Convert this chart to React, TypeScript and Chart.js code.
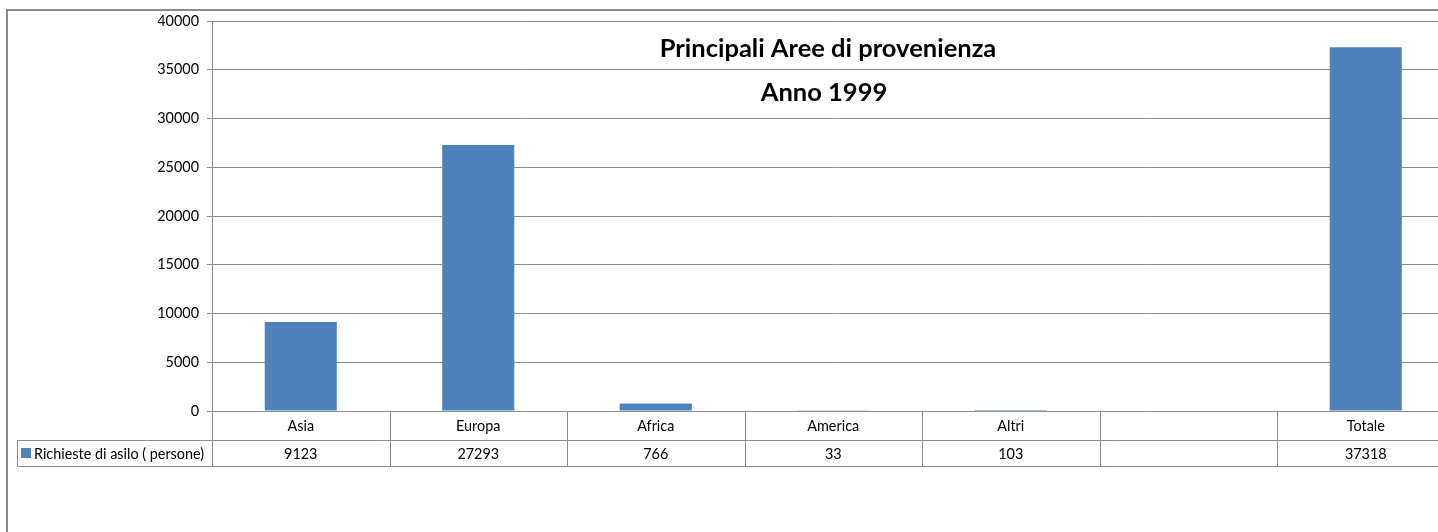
import React, { useEffect, useRef } from "react";
import { Chart, registerables } from "chart.js";

Chart.register(...registerables);

const categories = ["Asia", "Europa", "Africa", "America", "Altri", "", "Totale"];
const seriesLabel = "Richieste di asilo ( persone)";
const seriesValues: (number | null)[] = [9123, 27293, 766, 33, 103, null, 37318];
const tableValues = ["9123", "27293", "766", "33", "103", "", "37318"];
const titleLines = ["Principali Aree di provenienza", "Anno 1999"];

const BAR_COLOR = "#4F81BD";
const LINE_COLOR = "#8C8C8C";
const FONT = "Lato, 'Open Sans', sans-serif";

const extrasPlugin = {
  id: "extras",
  beforeDraw(chart: any) {
    const ctx = chart.ctx;
    ctx.save();
    ctx.fillStyle = "#ffffff";
    ctx.fillRect(0, 0, chart.width, chart.height);
    ctx.strokeStyle = "#8A8A8A";
    ctx.lineWidth = 2;
    ctx.strokeRect(7, 10, chart.width + 20, chart.height + 20);
    ctx.restore();
  },
  afterDraw(chart: any) {
    const ctx = chart.ctx;
    const area = chart.chartArea;
    const n = categories.length;
    const cw = (area.right - area.left) / n;
    const row1Top = area.bottom;
    const row1Bottom = area.bottom + 29;
    const row2Bottom = row1Bottom + 26;
    const legendLeft = 17.5;
    ctx.save();
    ctx.strokeStyle = LINE_COLOR;
    ctx.lineWidth = 1;
    ctx.beginPath();
    ctx.moveTo(legendLeft, Math.round(row1Bottom) + 0.5);
    ctx.lineTo(chart.width, Math.round(row1Bottom) + 0.5);
    ctx.moveTo(legendLeft, Math.round(row2Bottom) + 0.5);
    ctx.lineTo(chart.width, Math.round(row2Bottom) + 0.5);
    for (let i = 0; i <= n; i++) {
      const x = Math.round(area.left + i * cw) + 0.5;
      ctx.moveTo(x, row1Top);
      ctx.lineTo(x, row2Bottom + 0.5);
    }
    ctx.moveTo(legendLeft, Math.round(row1Bottom) + 0.5);
    ctx.lineTo(legendLeft, Math.round(row2Bottom) + 0.5);
    ctx.stroke();

    ctx.fillStyle = "#000000";
    ctx.font = `14.4px ${FONT}`;
    ctx.textAlign = "center";
    ctx.textBaseline = "middle";
    const xs = chart.scales.x;
    for (let i = 0; i < n; i++) {
      const cx = xs.getPixelForValue(i);
      ctx.fillText(categories[i], cx, (row1Top + row1Bottom) / 2 + 1);
      ctx.fillText(tableValues[i], cx, (row1Bottom + row2Bottom) / 2 + 1);
    }
    const midY = (row1Bottom + row2Bottom) / 2;
    ctx.fillStyle = BAR_COLOR;
    ctx.fillRect(21, midY - 5, 10, 10);
    ctx.fillStyle = "#000000";
    ctx.textAlign = "left";
    ctx.fillText(seriesLabel, 34, midY + 1);

    ctx.font = `bold 25.5px ${FONT}`;
    ctx.textAlign = "center";
    ctx.fillText(titleLines[0], 828, 49);
    ctx.fillText(titleLines[1], 824, 93);
    ctx.restore();
  },
};

export default function App() {
  const ref = useRef<HTMLCanvasElement | null>(null);
  useEffect(() => {
    if (!ref.current) return;
    const chart = new Chart(ref.current, {
      type: "bar",
      data: {
        labels: categories,
        datasets: [
          {
            label: seriesLabel,
            data: seriesValues,
            backgroundColor: BAR_COLOR,
            borderWidth: 0,
            categoryPercentage: 1,
            barPercentage: 0.406,
          },
        ],
      },
      options: {
        animation: false,
        responsive: false,
        maintainAspectRatio: false,
        devicePixelRatio: 1,
        layout: { padding: { left: 0, top: 21, right: 25.5, bottom: 121 } },
        plugins: {
          legend: { display: false },
          title: { display: false },
          tooltip: { enabled: false },
        },
        scales: {
          x: {
            display: false,
          },
          y: {
            min: 0,
            max: 40000,
            ticks: {
              stepSize: 5000,
              color: "#000000",
              font: { family: FONT, size: 14.4 },
              padding: 8,
              callback: (v: any) => String(v),
            },
            grid: {
              color: LINE_COLOR,
              tickLength: 5,
              tickColor: LINE_COLOR,
            },
            border: { color: LINE_COLOR },
            afterFit: (scale: any) => {
              scale.width = 212;
            },
          },
        },
      },
      plugins: [extrasPlugin],
    });
    return () => chart.destroy();
  }, []);
  return (
    <div
      style={{
        position: "absolute",
        left: 0,
        top: 0,
        width: 1438,
        height: 532,
        overflow: "hidden",
      }}
    >
      <canvas ref={ref} width={1480} height={532} style={{ display: "block" }} />
    </div>
  );
}
